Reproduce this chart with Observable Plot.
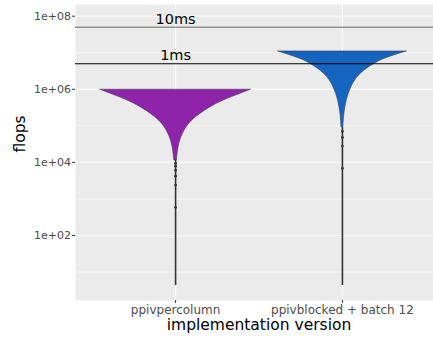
<!DOCTYPE html>
<html><head><meta charset="utf-8">
<script src="https://cdn.jsdelivr.net/npm/d3@7"></script>
<script src="https://cdn.jsdelivr.net/npm/@observablehq/plot@0.6"></script>
<style>body{margin:0;background:#fff} svg{display:block}</style>
</head><body><div id="chart"></div>
<script>
// categories (x positions 1, 2)
const categories = ["ppivpercolumn", "ppivblocked + batch 12"];
const fills = ["#8E24AA", "#1565C0"];

// violin body profile: flops value and half width (category units)
const v1Flops = [9.68e5, 7.53e5, 4.94e5, 3.24e5, 2.14e5, 1.40e5, 9.18e4, 6.07e4, 3.97e4, 2.61e4, 1.72e4, 1.13e4];
const v1Half  = [0.451, 0.389, 0.289, 0.210, 0.150, 0.100, 0.066, 0.044, 0.028, 0.018, 0.012, 0.008];
const v2Flops = [1.08e7, 8.41e6, 6.14e6, 4.99e6, 4.03e6, 2.65e6, 1.74e6, 1.14e6, 7.53e5, 4.94e5, 3.24e5, 2.14e5, 1.40e5, 9.18e4];
const v2Half  = [0.385, 0.310, 0.229, 0.193, 0.160, 0.110, 0.076, 0.054, 0.038, 0.026, 0.018, 0.012, 0.008, 0.006];

// lowest observation (tail end) and isolated small bumps in the tails
const tailMin = [4.3, 4.3];
const v1Bumps = [9.5e3, 7.9e3, 6.0e3, 4.2e3, 2.4e3, 590];
const v2Bumps = [7.1e4, 4.8e4, 2.8e4, 6.9e3];

// reference lines
const refValues = [5e7, 5e6];
const refLabels = ["10ms", "1ms"];
const refColors = ["#666666", "#000000"];

// y tick labels
const majorTicks = [1e2, 1e4, 1e6, 1e8];
const majorLabels = ["1e+02", "1e+04", "1e+06", "1e+08"];
const minorTicks = [1e1, 1e3, 1e5, 1e7];

const body1 = v1Flops.map((f, i) => ({cat: 1, flops: f, hw: v1Half[i]}));
const body2 = v2Flops.map((f, i) => ({cat: 2, flops: f, hw: v2Half[i]}));
const tails = [
  {cat: 1, lo: tailMin[0], hi: v1Flops[v1Flops.length - 1]},
  {cat: 2, lo: tailMin[1], hi: v2Flops[v2Flops.length - 1]}
];
const bumps = [...v1Bumps.map(f => ({cat: 1, flops: f})), ...v2Bumps.map(f => ({cat: 2, flops: f}))];
const refs = refValues.map((v, i) => ({v, label: refLabels[i], color: refColors[i]}));

const plot = Plot.plot({
  width: 433, height: 339,
  marginLeft: 75, marginRight: 0, marginTop: 4, marginBottom: 39,
  style: {fontFamily: "DejaVu Sans, sans-serif", background: "#fff", overflow: "hidden"},
  x: {type: "linear", domain: [0.4, 2.6], range: [75, 442]},
  y: {type: "log", domain: [10 ** 0.222, 10 ** 8.32]},
  marks: [
    Plot.frame({fill: "#EBEBEB"}),
    Plot.ruleY(minorTicks, {stroke: "#fff", strokeWidth: 0.55}),
    Plot.ruleY(majorTicks, {stroke: "#fff", strokeWidth: 1.1}),
    Plot.ruleX([1, 2], {stroke: "#fff", strokeWidth: 1.1}),
    Plot.ruleX(tails, {x: "cat", y1: "lo", y2: "hi", stroke: "#333", strokeWidth: 1.6}),
    Plot.dot(bumps, {x: "cat", y: "flops", r: 1.4, fill: "#333", stroke: null}),
    Plot.areaX(body1, {y: "flops", x1: d => d.cat - d.hw, x2: d => d.cat + d.hw, fill: fills[0], stroke: "#333", strokeWidth: 0.5, curve: "monotone-y"}),
    Plot.areaX(body2, {y: "flops", x1: d => d.cat - d.hw, x2: d => d.cat + d.hw, fill: fills[1], stroke: "#333", strokeWidth: 0.5, curve: "monotone-y"}),
    Plot.ruleY(refs, {y: "v", stroke: "color", strokeWidth: 1}),
    Plot.text(refs, {x: () => 1, y: "v", text: "label", dy: -8, fontSize: 14.5, fill: "#000", lineAnchor: "middle"}),
    Plot.axisY(majorTicks, {tickFormat: d => majorLabels[majorTicks.indexOf(d)], tickSize: 3, tickPadding: 1.5, fontSize: 11, fill: "#4D4D4D", stroke: "#333", label: null}),
    Plot.axisX([1, 2], {tickFormat: d => categories[d - 1], tickSize: 3, tickPadding: 2, fontSize: 12, fill: "#4D4D4D", stroke: "#333", label: null}),
    Plot.text(["implementation version"], {text: d => d, x: () => 1.5, frameAnchor: "bottom", dy: 25, lineAnchor: "middle", fontSize: 15.5, fill: "#000"}),
    Plot.text(["flops"], {text: d => d, frameAnchor: "left", dx: -55, rotate: -90, lineAnchor: "middle", fontSize: 15.5, fill: "#000"})
  ]
});
document.getElementById("chart").appendChild(plot);
</script>
</body></html>
